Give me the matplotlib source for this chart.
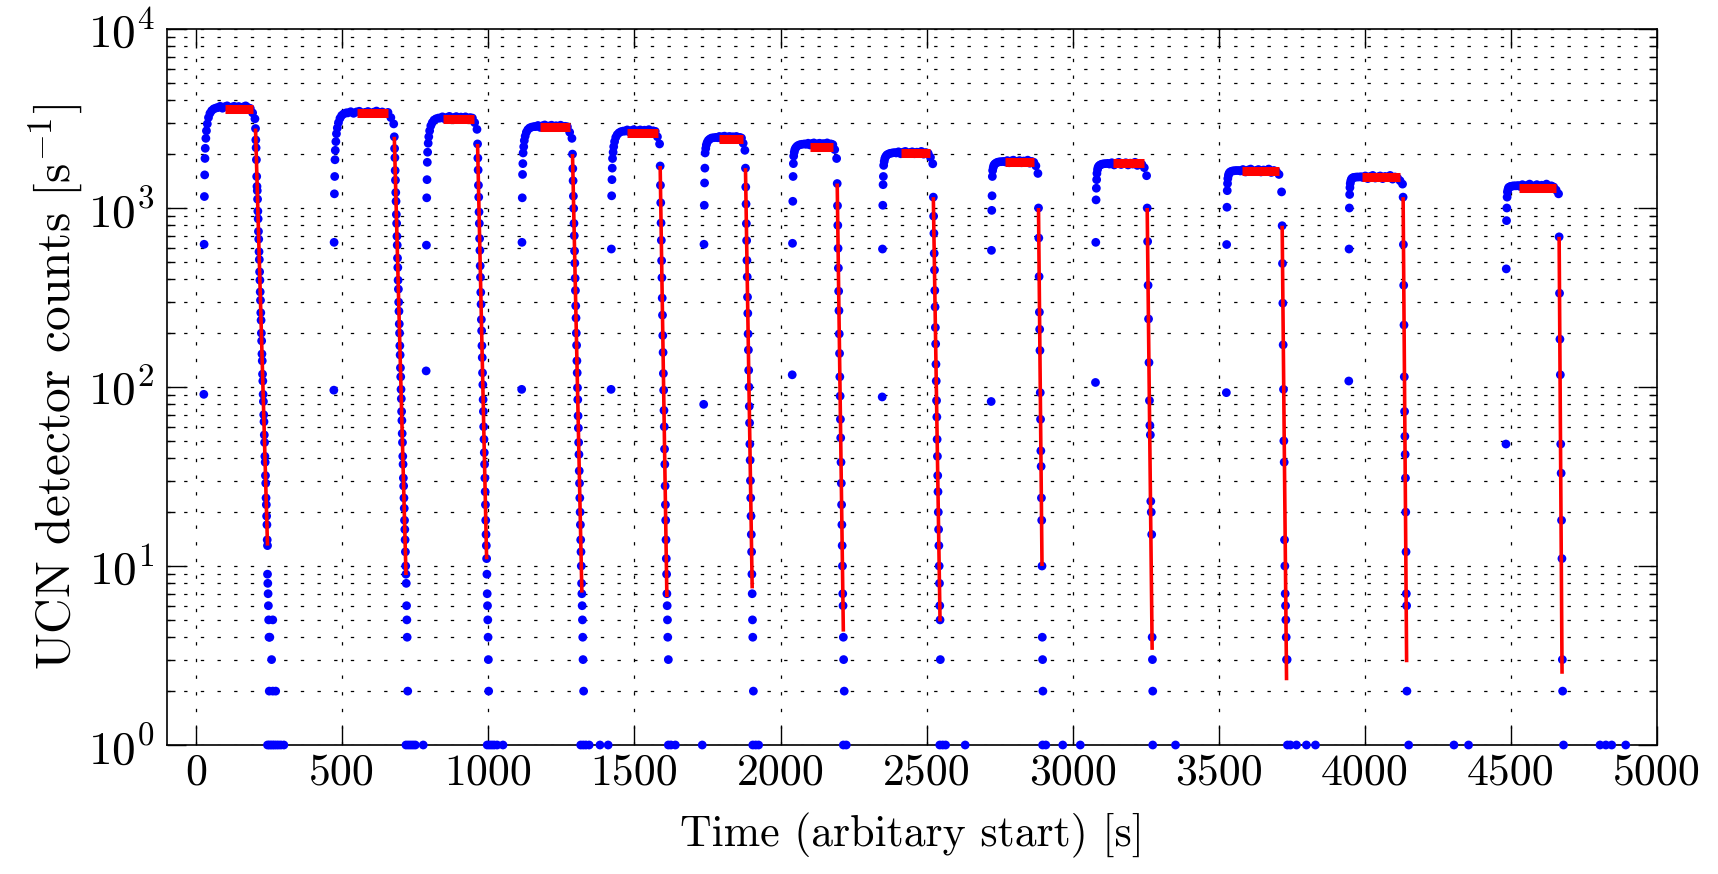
import numpy as np
import matplotlib
matplotlib.use("Agg")
import matplotlib.pyplot as plt
from matplotlib.ticker import LogLocator, NullLocator, NullFormatter

# ---------------- data ----------------
fill_start = [26, 471, 787, 1114, 1420, 1737, 2040, 2348, 2721, 3078, 3526, 3945, 4483]
rise_offsets = [0, 1, 2, 3, 4, 5, 7, 9, 12, 16, 21, 27, 34, 42]
rise_counts = [
    [91, 627, 1159, 1531, 1892, 2155, 2450, 2700, 2950, 3200, 3380, 3500, 3580, 3620],
    [96, 643, 1200, 1500, 1860, 2100, 2350, 2600, 2800, 3000, 3170, 3290, 3360, 3400],
    [123, 620, 1140, 1440, 1800, 2050, 2300, 2500, 2700, 2880, 3000, 3100, 3150, 3180],
    [97, 643, 1140, 1540, 1770, 2030, 2200, 2380, 2520, 2650, 2740, 2800, 2830, 2850],
    [97, 590, 1170, 1440, 1670, 1890, 2050, 2200, 2350, 2480, 2570, 2630, 2670, 2690],
    [80, 627, 1036, 1380, 1670, 2030, 2150, 2250, 2330, 2390, 2430, 2460, 2470, 2480],
    [117, 635, 1090, 1500, 1770, 1950, 2050, 2120, 2170, 2210, 2240, 2260, 2270, 2280],
    [88, 590, 1036, 1350, 1500, 1730, 1820, 1890, 1940, 1980, 2000, 2020, 2030, 2040],
    [83, 580, 970, 1170, 1500, 1620, 1680, 1730, 1760, 1780, 1800, 1810, 1815, 1820],
    [106, 643, 1110, 1290, 1440, 1560, 1640, 1690, 1720, 1740, 1755, 1765, 1770, 1775],
    [93, 625, 1010, 1250, 1370, 1460, 1520, 1560, 1585, 1600, 1610, 1615, 1620, 1620],
    [108, 590, 1000, 1190, 1300, 1370, 1420, 1450, 1470, 1480, 1485, 1490, 1490, 1495],
    [48, 457, 850, 1000, 1150, 1230, 1270, 1300, 1310, 1320, 1325, 1330, 1330, 1335],
]
plateau_span = [(74, 201), (519, 676), (835, 961), (1162, 1286), (1468, 1586),
                (1785, 1878), (2088, 2192), (2396, 2521), (2769, 2881), (3126, 3253),
                (3574, 3715), (3993, 4129), (4531, 4663)]
plateau_counts = [
    [3640, 3700, 3610, 3680, 3720, 3600, 3660, 3700, 3630, 3690, 3610, 3670, 3720, 3640, 3600, 3400, 3150],
    [3400, 3450, 3380, 3440, 3470, 3390, 3420, 3460, 3370, 3430, 3480, 3400, 3440, 3380, 3420, 3200, 2950],
    [3180, 3230, 3150, 3210, 3250, 3170, 3200, 3240, 3160, 3220, 3190, 3230, 3150, 3200, 3180, 3000, 2750],
    [2850, 2890, 2820, 2880, 2910, 2840, 2870, 2900, 2830, 2880, 2850, 2900, 2820, 2860, 2840, 2650, 2450],
    [2690, 2730, 2660, 2710, 2740, 2670, 2700, 2730, 2660, 2720, 2690, 2740, 2650, 2700, 2680, 2500, 2280],
    [2470, 2510, 2450, 2500, 2520, 2460, 2490, 2510, 2450, 2500, 2470, 2510, 2440, 2480, 2460, 2300, 2100],
    [2270, 2300, 2250, 2290, 2310, 2260, 2280, 2300, 2250, 2290, 2270, 2310, 2240, 2280, 2260, 2120, 1890],
    [2030, 2060, 2010, 2050, 2070, 2020, 2040, 2060, 2010, 2050, 2030, 2070, 2000, 2040, 2020, 1920, 1766],
    [1810, 1840, 1790, 1830, 1850, 1800, 1820, 1840, 1790, 1830, 1810, 1850, 1780, 1820, 1800, 1720, 1560],
    [1760, 1790, 1740, 1780, 1800, 1750, 1770, 1790, 1740, 1780, 1760, 1800, 1730, 1770, 1750, 1680, 1515],
    [1610, 1640, 1590, 1630, 1650, 1600, 1620, 1640, 1590, 1630, 1610, 1650, 1580, 1620, 1600, 1540, 1230],
    [1480, 1510, 1460, 1500, 1520, 1470, 1490, 1510, 1460, 1500, 1480, 1520, 1450, 1490, 1470, 1420, 1360],
    [1320, 1350, 1300, 1340, 1360, 1310, 1330, 1350, 1300, 1340, 1320, 1360, 1290, 1330, 1310, 1260, 1200],
]
decay_span = [(203, 244), (678, 718), (963, 994), (1288, 1320), (1588, 1611),
              (1880, 1903), (2194, 2215), (2523, 2546), (2883, 2895), (3255, 3272),
              (3717, 3732), (4131, 4143), (4665, 4676)]
decay_counts = [
    [2780, 2400, 2170, 1860, 1500, 1320, 1250, 1120, 960, 870, 740, 670, 570, 515, 440, 395, 340, 305,
     260, 236, 200, 181, 153, 140, 118, 108, 91, 83, 70, 64, 54, 49, 41, 38, 32, 29, 24, 22, 19, 17, 14, 13],
    [2500, 2150, 1910, 1620, 1430, 1220, 1090, 920, 820, 695, 620, 525, 465, 395, 352, 298, 265, 225,
     200, 170, 151, 128, 114, 97, 86, 73, 65, 55, 49, 41, 37, 31, 28, 24, 21, 18, 16, 14, 12, 10, 9],
    [2280, 1900, 1630, 1340, 1150, 950, 820, 675, 580, 475, 410, 338, 290, 238, 206, 170, 146, 120,
     103, 85, 73, 60, 51, 43, 37, 31, 26, 22, 18, 15, 13, 11],
    [2000, 1660, 1420, 1165, 995, 820, 700, 575, 492, 405, 346, 284, 243, 200, 171, 140, 120, 99,
     85, 69, 59, 49, 42, 34, 29, 24, 20, 17, 14, 12, 10, 8, 7],
    [1717, 1340, 1070, 825, 660, 508, 408, 314, 252, 194, 156, 119, 96, 74, 60, 45, 37, 28, 22, 18, 14, 11, 9, 7],
    [1670, 1310, 1052, 818, 658, 510, 412, 318, 258, 198, 161, 124, 100, 78, 63, 48, 39, 30, 24, 19, 15, 12, 9, 7],
    [1370, 1030, 800, 595, 462, 343, 267, 198, 154, 114, 89, 66, 52, 38, 29, 22, 17, 13, 10, 7, 6, 4],
    [1150, 900, 722, 558, 450, 346, 280, 215, 174, 134, 108, 84, 68, 51, 41, 32, 26, 20, 16, 13, 10, 8, 6, 5],
    [1000, 680, 414, 262, 210, 160, 93, 66, 44, 36, 24, 18, 10],
    [1000, 650, 370, 240, 137, 84, 61, 54, 23, 20, 15, 4],
    [796, 490, 294, 172, 97, 50, 38, 14, 10, 7, 6, 5, 4, 3],
    [1150, 625, 370, 222, 114, 73, 53, 42, 31, 20, 12, 7, 6],
    [690, 334, 185, 117, 48, 33, 18, 11, 3],
]
tail_t = [
    [244, 245, 246, 247, 248, 262, 249, 252, 258, 250, 262, 272],
    [719, 720, 721, 722, 724],
    [995, 996, 997, 998, 999, 1000, 1001],
    [1321, 1322, 1323, 1324, 1326],
    [1612, 1613, 1614, 1616],
    [1904, 1905, 1907],
    [2216, 2218],
    [2547],
    [2896, 2897, 2898],
    [3273, 3274],
    [3734],
    [4144],
    [4677],
]
tail_c = [
    [9, 8, 7, 6, 5, 5, 4, 4, 3, 2, 2, 2],
    [8, 6, 5, 4, 2],
    [9, 7, 6, 5, 4, 3, 2],
    [6, 5, 4, 3, 2],
    [6, 5, 4, 3],
    [5, 4, 2],
    [3, 2],
    [3],
    [4, 3, 2],
    [3, 2],
    [3],
    [2],
    [2],
]
one_count_t = [244, 250, 256, 262, 268, 275, 282, 290, 300, 718, 726, 734, 742, 750, 777,
               996, 1004, 1012, 1020, 1030, 1050, 1316, 1325, 1334, 1345, 1382, 1410,
               1616, 1625, 1640, 1732, 1905, 1915, 1925, 2215, 2225, 2545, 2555, 2565, 2632,
               2897, 2908, 2966, 3026, 3274, 3352, 3735, 3745, 3766, 3800, 3831,
               4150, 4305, 4355, 4680, 4805, 4825, 4845, 4893]
hold_t = [(98, 195), (552, 657), (846, 951), (1175, 1280), (1474, 1580), (1791, 1871),
          (2100, 2180), (2411, 2511), (2769, 2866), (3137, 3244), (3580, 3705),
          (3991, 4122), (4529, 4654)]
hold_level = [3570, 3400, 3150, 2830, 2630, 2415, 2190, 2030, 1815, 1790, 1616, 1490, 1300]
fit_t = [(203, 244), (678, 718), (963, 994), (1288, 1320), (1588, 1611), (1880, 1903),
         (2194, 2215), (2523, 2546), (2883, 2895), (3255, 3272), (3717, 3732),
         (4131, 4143), (4665, 4675)]
fit_c = [(2780, 13), (2500, 8.9), (2280, 10.9), (2000, 7.1), (1717, 6.7), (1670, 7.5),
         (1370, 4.3), (1150, 4.9), (1000, 10), (1000, 3.4), (796, 2.3), (1150, 2.9), (690, 2.5)]

xticks = [0, 500, 1000, 1500, 2000, 2500, 3000, 3500, 4000, 4500, 5000]

# ---------------- style ----------------
plt.rcParams["font.family"] = ["cmr10", "DejaVu Serif"]
plt.rcParams["mathtext.fontset"] = "cm"
plt.rcParams["axes.formatter.use_mathtext"] = True
plt.rcParams["lines.scale_dashes"] = False

fig = plt.figure(figsize=(17.18, 8.74), dpi=100)
ax = fig.add_axes([167 / 1718, 129 / 874, 1490 / 1718, 716 / 874])

blue = "#0000ff"
red = "#ff0000"
ms = 40

for i in range(len(fill_start)):
    t_rise = [fill_start[i] + d for d in rise_offsets]
    p0, p1 = plateau_span[i]
    t_plat = np.linspace(p0, p1, len(plateau_counts[i]))
    d0, d1 = decay_span[i]
    t_dec = np.linspace(d0, d1, len(decay_counts[i]))
    t_all = np.concatenate([t_rise, t_plat, t_dec, tail_t[i]])
    c_all = np.concatenate([rise_counts[i], plateau_counts[i], decay_counts[i], tail_c[i]])
    ax.scatter(t_all, c_all, s=ms, color=blue, edgecolors="none", zorder=3, clip_on=False)

ax.scatter(one_count_t, np.ones(len(one_count_t)), s=ms, color=blue, edgecolors="none",
           zorder=3, clip_on=False)

for i in range(len(hold_t)):
    ax.plot(hold_t[i], [hold_level[i], hold_level[i]], color=red, lw=6.5,
            solid_capstyle="butt", zorder=4)
    ax.plot(fit_t[i], fit_c[i], color=red, lw=2.6, solid_capstyle="butt", zorder=4)

ax.set_yscale("log")
ax.set_ylim(1, 1e4)
ax.set_xlim(-100, 5000)
ax.set_xticks(xticks)
ax.set_xticklabels([str(v) for v in xticks])
ax.xaxis.set_minor_locator(NullLocator())
ax.yaxis.set_major_locator(LogLocator(base=10, numticks=10))
ax.yaxis.set_minor_locator(LogLocator(base=10, subs=np.arange(2, 10), numticks=20))
ax.yaxis.set_minor_formatter(NullFormatter())

grid_style = dict(color="k", linestyle=(0, (2.4, 9.6)), linewidth=0.9)
ax.grid(True, which="major", axis="both", **grid_style)
ax.grid(True, which="minor", axis="y", **grid_style)
ax.set_axisbelow(True)

ax.tick_params(which="both", direction="in", top=True, right=True, width=1.0, colors="k")
ax.tick_params(which="major", length=14)
ax.tick_params(which="minor", length=5.5)
ax.tick_params(axis="x", which="major", pad=6, labelsize=31.5)
ax.tick_params(axis="y", which="major", pad=9, labelsize=34)
for sp in ax.spines.values():
    sp.set_linewidth(1.2)

ax.set_xlabel("Time (arbitary start) [s]", fontsize=31.5, labelpad=14)
ax.set_ylabel(r"UCN detector counts [s$^{-1}$]", fontsize=35.5, labelpad=1)

fig.savefig("out.png", dpi=100)
